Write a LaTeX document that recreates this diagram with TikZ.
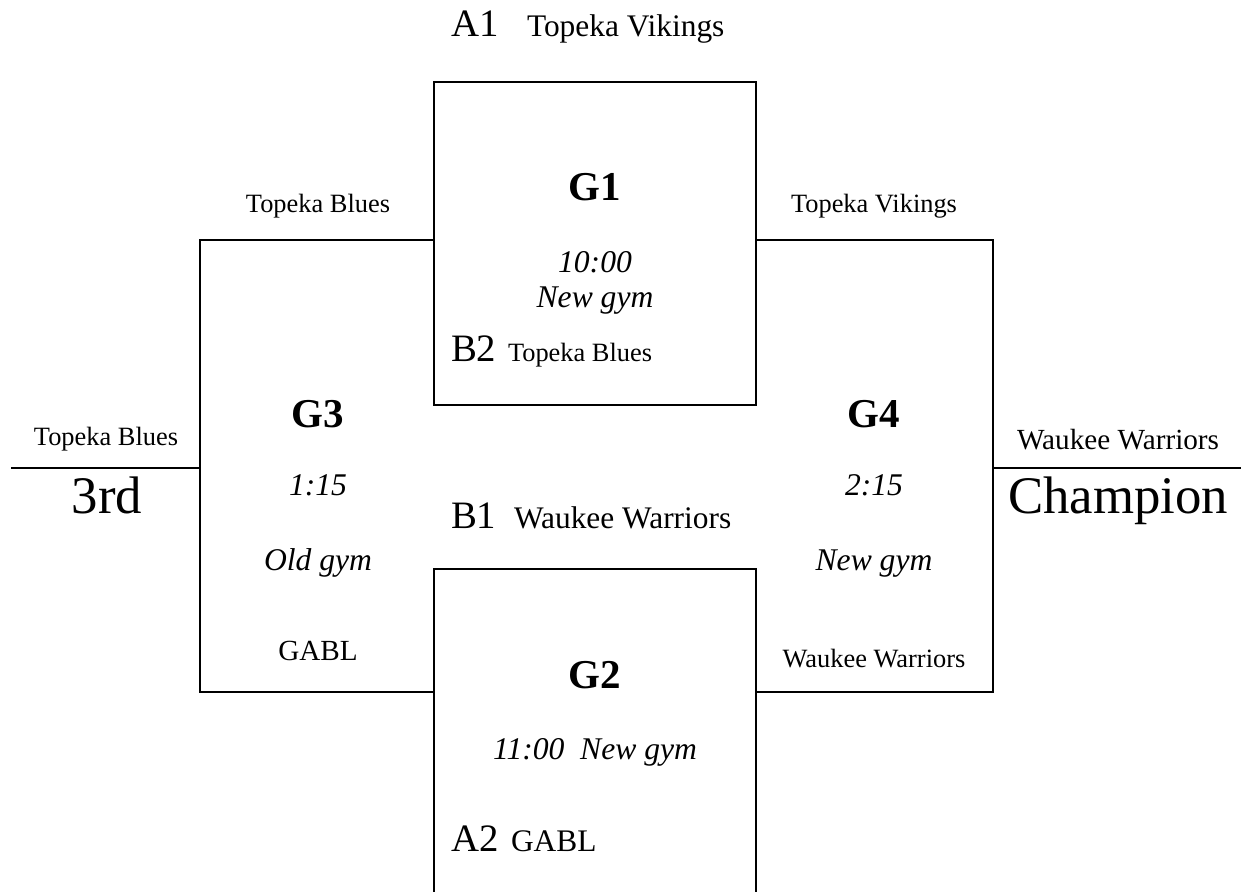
\documentclass[tikz,border=0pt]{standalone}
\usepackage{fontspec}
\setmainfont{Liberation Serif}
\begin{document}
\begin{tikzpicture}[x=0.5pt, y=-0.5pt, line width=1pt,
    every node/.style={inner sep=0pt, anchor=base},
    team/.style={font=\fontsize{13.2}{15}\selectfont},
    winner/.style={font=\fontsize{14.6}{17}\selectfont},
    teambig/.style={font=\fontsize{15.7}{18}\selectfont, anchor=base west},
    seed/.style={font=\fontsize{19.4}{22}\selectfont, anchor=base west},
    game/.style={font=\fontsize{20.5}{24}\selectfont\bfseries},
    slot/.style={font=\fontsize{15.8}{18}\selectfont\itshape},
    place/.style={font=\fontsize{26.4}{30}\selectfont}]
    \useasboundingbox (0,0) rectangle (1241,892);
    % corners of the bracket
    \coordinate (g1tl) at (434,82);
    \coordinate (g1br) at (756,405);
    \coordinate (g2tl) at (434,569);
    \coordinate (g2br) at (756,892);
    \coordinate (g3tl) at (200,240);
    \coordinate (g3bl) at (200,692);
    \coordinate (g4tr) at (993,240);
    \coordinate (g4br) at (993,692);
    \coordinate (third) at (11,468);
    \coordinate (champ) at (1241,468);
    % boxes and brackets
    \draw (g1tl) rectangle (g1br);
    \draw (g2tl |- g2br) |- (g2br |- g2tl) -- (g2br);
    \draw (g1tl |- g3tl) -- (g3tl) -- (g3bl) -- (g2tl |- g3bl);
    \draw (g1br |- g4tr) -- (g4tr) -- (g4br) -- (g2br |- g4br);
    \draw (third) -- (g3tl |- third);
    \draw (g4tr |- champ) -- (champ);
    % G1
    \node[seed] (a1) at (450,37) {A1};
    \node[teambig] (a1team) at (526,37) {Topeka Vikings};
    \node[game] (g1) at (595,201) {G1};
    \node[slot] (g1time) at (595,273) {10:00};
    \node[slot] (g1gym) at (595,308) {New gym};
    \node[seed] (b2) at (450,362) {B2};
    \node[team, anchor=base west] (b2team) at (507,362) {Topeka Blues};
    % G2
    \node[seed] (b1) at (450,528) {B1};
    \node[teambig] (b1team) at (513,528) {Waukee Warriors};
    \node[game] (g2) at (595,688) {G2};
    \node[slot] (g2slot) at (595,759) {11:00\ \ New gym};
    \node[seed] (a2) at (450,851) {A2};
    \node[teambig] (a2team) at (510,851) {GABL};
    % G3
    \node[team] (g3top) at (318,213) {Topeka Blues};
    \node[game] (g3) at (318,428) {G3};
    \node[slot] (g3time) at (318,495) {1:15};
    \node[slot] (g3gym) at (318,570) {Old gym};
    \node[winner] (g3bot) at (318,660) {GABL};
    % G4
    \node[team] (g4top) at (874,213) {Topeka Vikings};
    \node[game] (g4) at (874,428) {G4};
    \node[slot] (g4time) at (874,495) {2:15};
    \node[slot] (g4gym) at (874,570) {New gym};
    \node[team] (g4bot) at (874,667) {Waukee Warriors};
    % places
    \node[team] (thirdteam) at (106,446) {Topeka Blues};
    \node[place] (thirdlabel) at (107,513) {3rd};
    \node[winner] (champteam) at (1118,450) {Waukee Warriors};
    \node[place] (champlabel) at (1118,514) {Champion};
\end{tikzpicture}
\end{document}
